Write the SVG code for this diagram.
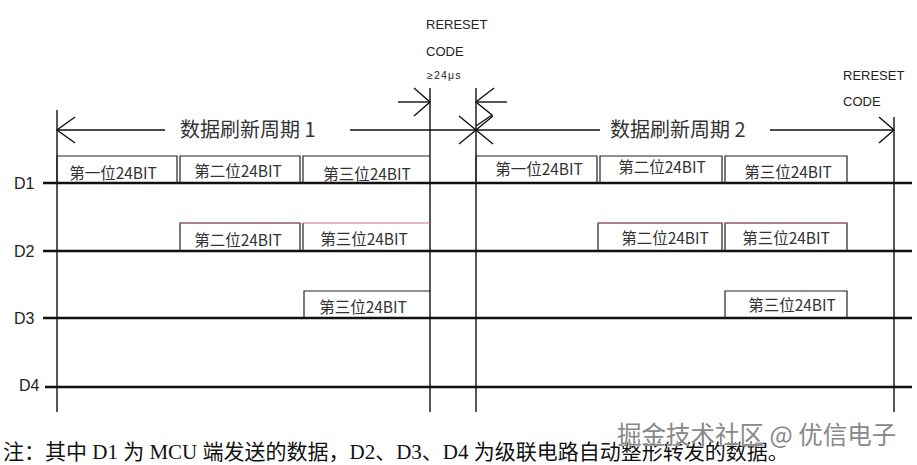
<svg xmlns="http://www.w3.org/2000/svg" width="917" height="465" viewBox="0 0 917 465">
<style>
.bg{fill:#fff}
.ln{stroke:#111;stroke-width:1.4;fill:none}
.sig{stroke:#111;stroke-width:2.6;fill:none}
.box{stroke:#222;stroke-width:1.2;fill:none}
.boxr{stroke:#c8707a;stroke-width:1.2;fill:none}
.t{font-family:"Noto Sans CJK SC","Liberation Sans",sans-serif;fill:#333}
.bt{font-size:15.5px;text-anchor:middle}
.pt{font-size:20px}
.lab{font-family:"Liberation Sans","Noto Sans",sans-serif;fill:#222;font-size:16px}
.rc{font-family:"Liberation Sans","Noto Sans",sans-serif;fill:#222;font-size:13px}
.note{font-family:"Liberation Serif","Noto Sans CJK SC",serif;font-size:21px;fill:#111}
.wm{font-family:"Noto Sans CJK SC",sans-serif;font-size:24.5px;fill:#888;stroke:#fff;stroke-width:0.8;paint-order:stroke}
</style>
<rect class="bg" x="0" y="0" width="917" height="465"/>
<g id="connectors">
<line class="ln" x1="57" y1="110" x2="57" y2="412"/>
<line class="ln" x1="430" y1="88" x2="430" y2="412"/>
<line class="ln" x1="476" y1="88" x2="476" y2="412"/>
<line class="ln" x1="894" y1="117" x2="894" y2="412"/>
<line class="ln" x1="57" y1="130" x2="165" y2="130"/>
<line class="ln" x1="350" y1="130" x2="476" y2="130"/>
<polyline class="ln" points="75,117 57,130 75,143"/>
<polyline class="ln" points="459,116 476,130 459,144"/>
<line class="ln" x1="476" y1="130" x2="600" y2="130"/>
<line class="ln" x1="770" y1="130" x2="894" y2="130"/>
<polyline class="ln" points="493,116 476,130 493,144"/>
<polyline class="ln" points="879,117 894,130 879,143"/>
<line class="ln" x1="398" y1="102" x2="430" y2="102"/>
<polyline class="ln" points="414,88 430,102 414,116"/>
<line class="ln" x1="476" y1="102" x2="507" y2="102"/>
<polyline class="ln" points="494,88 476,102 492,115 476,126"/>
</g>
<g id="signals">
<line class="sig" x1="43" y1="183" x2="912" y2="183"/>
<line class="sig" x1="43" y1="251" x2="912" y2="251"/>
<line class="sig" x1="43" y1="318" x2="912" y2="318"/>
<line class="sig" x1="45" y1="387" x2="912" y2="387"/>
</g>
<g id="labels">
<text class="lab" x="14" y="189">D1</text>
<text class="lab" x="14" y="257">D2</text>
<text class="lab" x="14" y="324">D3</text>
<text class="lab" x="19" y="391">D4</text>
</g>
<g id="reset1">
<text class="rc" x="426" y="29">RERESET</text>
<text class="rc" x="426" y="56">CODE</text>
<text class="rc" x="427" y="79" style="font-size:10.5px;letter-spacing:1.2px">≥24μs</text>
</g>
<g id="reset2">
<text class="rc" x="843" y="80">RERESET</text>
<text class="rc" x="843" y="106">CODE</text>
</g>
<g id="period1"><text class="t pt" x="180" y="137">数据刷新周期 1</text></g>
<g id="period2"><text class="t pt" x="610" y="137">数据刷新周期 2</text></g>
<g id="d1-boxes">
<polyline class="box" points="57,183 57,156 177,156 177,183"/>
<polyline class="box" points="180,183 180,156 300,156 300,183"/>
<polyline class="box" points="303,183 303,156 430,156"/>
<text class="t bt" x="113" y="178.5">第一位24BIT</text>
<text class="t bt" x="238" y="176.5">第二位24BIT</text>
<text class="t bt" x="367" y="180">第三位24BIT</text>
<polyline class="box" points="476,183 476,156 597,156 597,183"/>
<polyline class="box" points="600,183 600,156 722,156 722,183"/>
<polyline class="box" points="725,183 725,156 847,156 847,183"/>
<text class="t bt" x="539" y="175">第一位24BIT</text>
<text class="t bt" x="662" y="172.5">第二位24BIT</text>
<text class="t bt" x="788" y="177.5">第三位24BIT</text>
</g>
<g id="d2-boxes">
<polyline class="box" points="180,251 180,223 300,223 300,251"/>
<line class="boxr" x1="180" y1="223" x2="300" y2="223"/>
<polyline class="box" points="303,251 303,223"/>
<line class="boxr" x1="303" y1="223" x2="430" y2="223"/>
<text class="t bt" x="238" y="245.5">第二位24BIT</text>
<text class="t bt" x="364" y="245">第三位24BIT</text>
<polyline class="box" points="598,251 598,223 722,223 722,251"/>
<line class="boxr" x1="598" y1="223" x2="722" y2="223"/>
<polyline class="box" points="725,251 725,223 847,223 847,251"/>
<line class="boxr" x1="725" y1="223" x2="847" y2="223"/>
<text class="t bt" x="665" y="244">第二位24BIT</text>
<text class="t bt" x="786" y="244">第三位24BIT</text>
</g>
<g id="d3-boxes">
<polyline class="box" points="304,318 304,291 430,291"/>
<text class="t bt" x="363" y="312.5">第三位24BIT</text>
<polyline class="box" points="725,318 725,291 847,291 847,318"/>
<text class="t bt" x="792" y="310.5">第三位24BIT</text>
</g>
<g id="note">
<text class="note" x="3" y="459">注：其中 D1 为 MCU 端发送的数据，D2、D3、D4 为级联电路自动整形转发的数据。</text>
</g>
<g id="watermark">
<text class="wm" x="617" y="444">掘金技术社区 @ 优信电子</text>
</g>
</svg>
